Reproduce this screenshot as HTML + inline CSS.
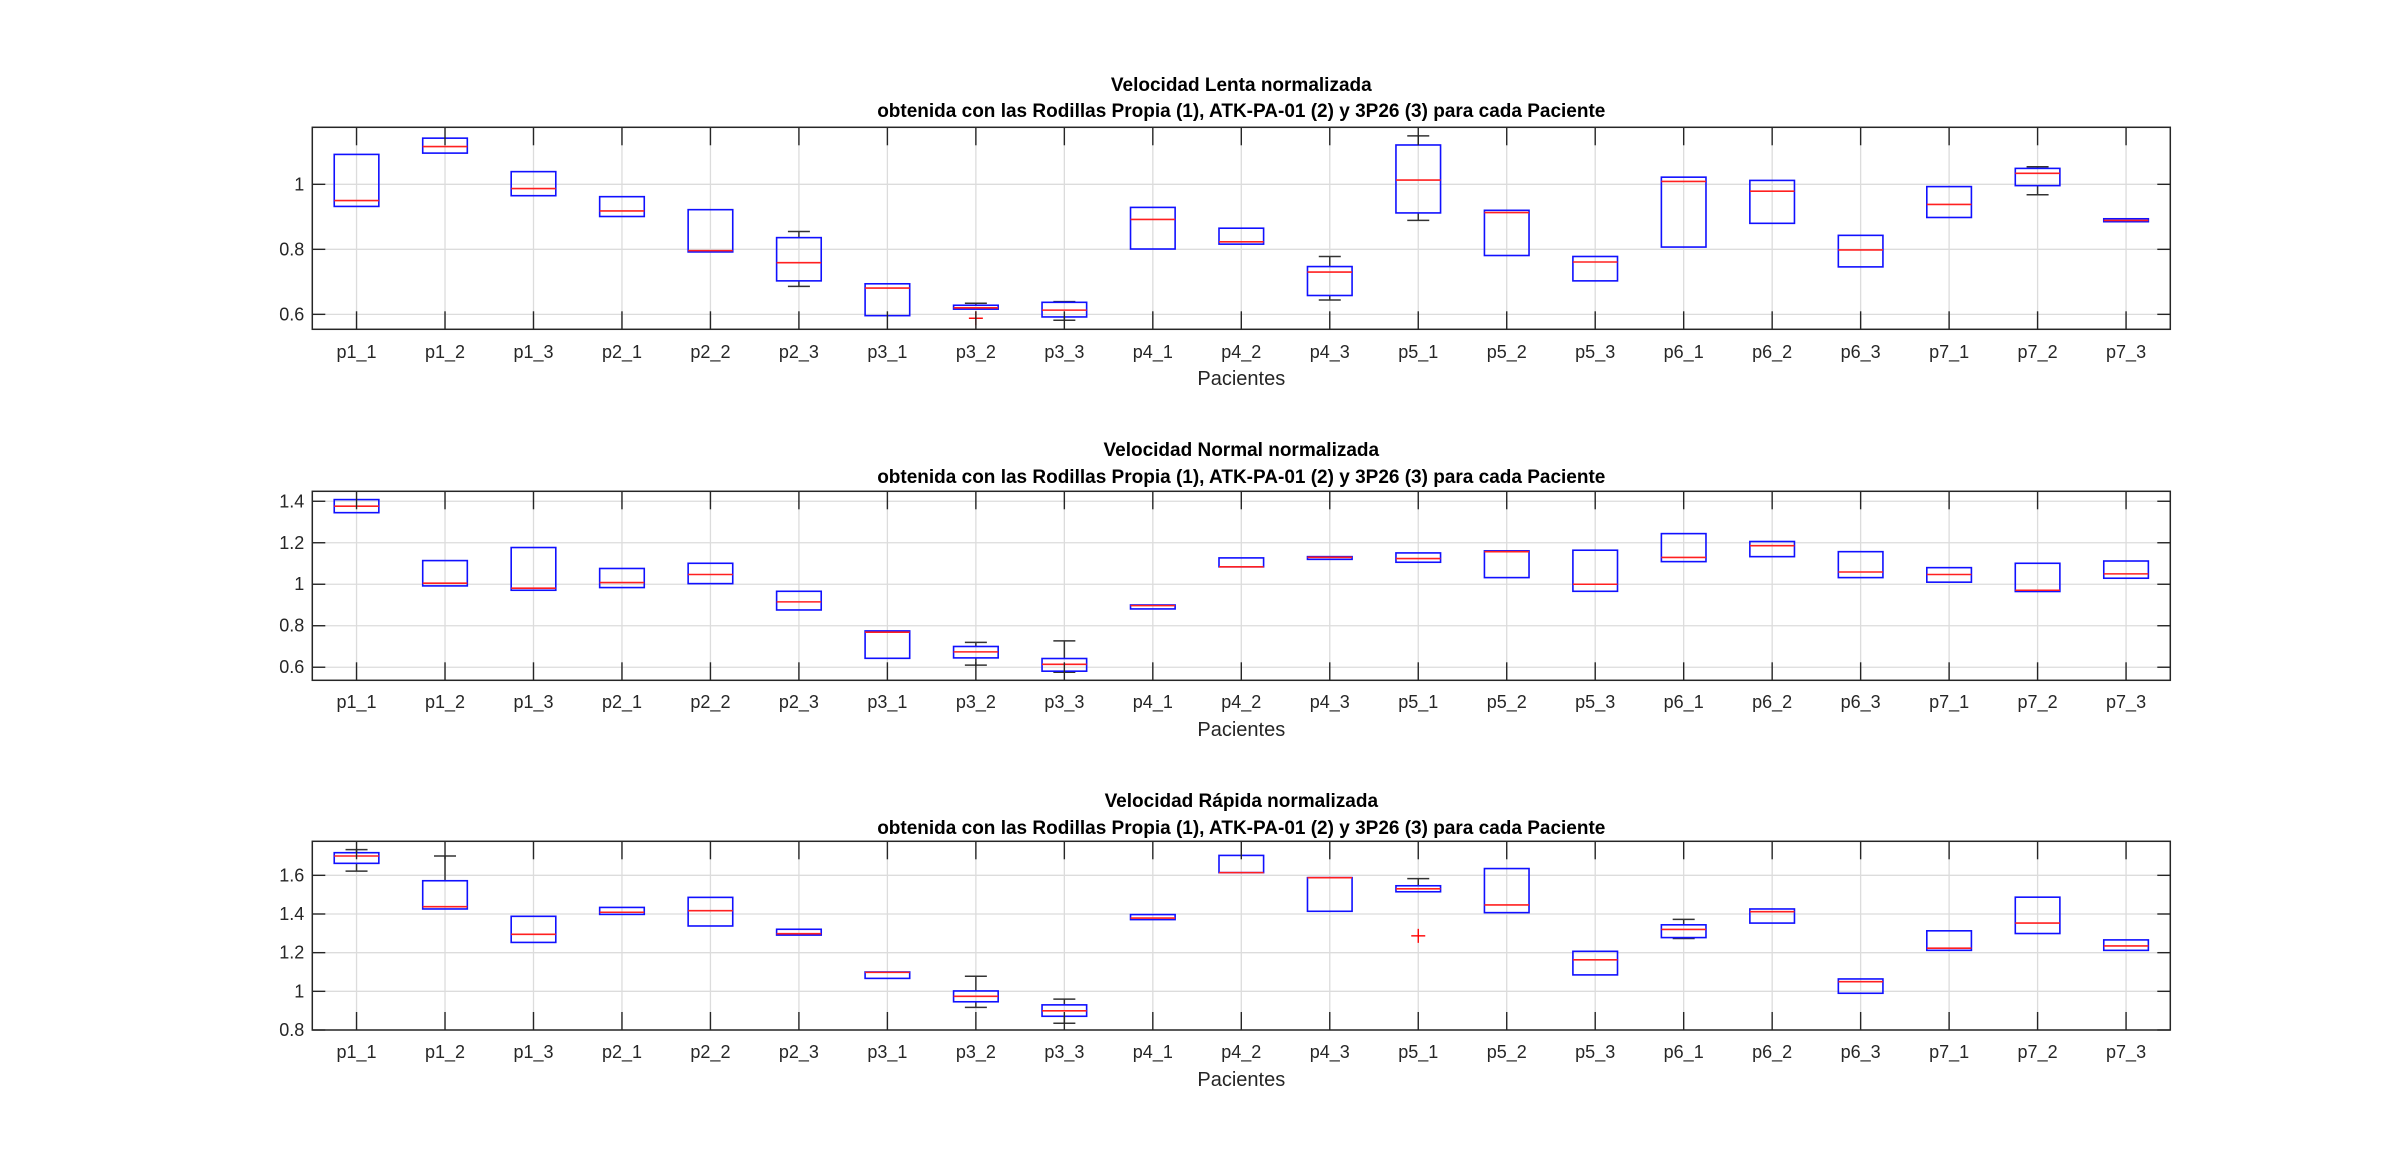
<!DOCTYPE html>
<html><head><meta charset="utf-8"><style>
html,body{margin:0;padding:0;background:#fff;}
svg{display:block;font-family:"Liberation Sans",Arial,sans-serif;}
</style></head><body>
<svg id="chart" width="2400" height="1170" viewBox="0 0 2400 1170" xmlns="http://www.w3.org/2000/svg"></svg>
<script>
const categories = ["p1_1","p1_2","p1_3","p2_1","p2_2","p2_3","p3_1","p3_2","p3_3","p4_1","p4_2","p4_3","p5_1","p5_2","p5_3","p6_1","p6_2","p6_3","p7_1","p7_2","p7_3"];
// Panel 1: Lenta
const lentaQ1  = [0.932,1.096,0.965,0.901,0.792,0.703,0.596,0.616,0.592,0.801,0.816,0.658,0.912,0.781,0.703,0.807,0.880,0.746,0.898,0.996,0.885];
const lentaMed = [0.950,1.116,0.987,0.918,0.796,0.759,0.681,0.620,0.613,0.892,0.823,0.730,1.013,0.913,0.761,1.009,0.979,0.798,0.938,1.034,0.889];
const lentaQ3  = [1.092,1.142,1.039,0.962,0.922,0.836,0.694,0.628,0.637,0.929,0.865,0.747,1.121,0.920,0.778,1.022,1.012,0.843,0.993,1.049,0.894];
const lentaWMin= [null,null,null,null,null,0.686,null,null,0.582,null,null,0.644,0.889,null,null,null,null,null,null,0.968,null];
const lentaWMax= [null,null,null,null,null,0.855,null,0.634,0.639,null,null,0.778,1.149,null,null,null,null,null,null,1.054,null];
const lentaOut = [[],[],[],[],[],[],[],[0.588],[],[],[],[],[],[],[],[],[],[],[],[],[]];
// Panel 2: Normal
const normalQ1  = [1.345,0.992,0.971,0.984,1.003,0.876,0.643,0.645,0.581,0.881,1.084,1.120,1.106,1.032,0.966,1.109,1.133,1.032,1.010,0.965,1.029];
const normalMed = [1.376,1.005,0.981,1.008,1.047,0.915,0.769,0.674,0.614,0.897,1.084,1.130,1.124,1.157,1.000,1.129,1.186,1.059,1.047,0.971,1.050];
const normalQ3  = [1.408,1.114,1.177,1.076,1.101,0.966,0.775,0.700,0.642,0.900,1.127,1.133,1.151,1.161,1.164,1.244,1.206,1.157,1.080,1.101,1.112];
const normalWMin= [null,null,null,null,null,null,null,0.610,0.576,null,null,null,null,null,null,null,null,null,null,null,null];
const normalWMax= [null,null,null,null,null,null,null,0.720,0.727,null,null,null,null,null,null,null,null,null,null,null,null];
const normalOut = [[],[],[],[],[],[],[],[],[],[],[],[],[],[],[],[],[],[],[],[],[]];
// Panel 3: Rapida
const rapidaQ1  = [1.662,1.426,1.253,1.398,1.338,1.291,1.067,0.946,0.871,1.371,1.614,1.414,1.515,1.407,1.085,1.278,1.353,0.990,1.212,1.299,1.212];
const rapidaMed = [1.700,1.438,1.295,1.409,1.417,1.298,1.098,0.974,0.899,1.379,1.614,1.588,1.530,1.447,1.163,1.320,1.412,1.050,1.223,1.353,1.235];
const rapidaQ3  = [1.717,1.572,1.388,1.434,1.486,1.321,1.100,1.002,0.930,1.397,1.703,1.588,1.546,1.635,1.207,1.344,1.426,1.064,1.313,1.487,1.266];
const rapidaWMin= [1.622,null,null,null,null,null,null,0.917,0.835,null,null,null,null,null,null,1.273,null,null,null,null,null];
const rapidaWMax= [1.733,1.700,null,null,null,null,null,1.078,0.960,null,null,null,1.583,null,null,1.372,null,null,null,null,null];
const rapidaOut = [[],[],[],[],[],[],[],[],[],[],[],[],[1.287],[],[],[],[],[],[],[],[]];

const ticks1 = [0.6,0.8,1];
const ticks2 = [0.6,0.8,1,1.2,1.4];
const ticks3 = [0.8,1,1.2,1.4,1.6];

const panels = [
 {name:"lenta", title1:"Velocidad Lenta normalizada", top:127.3, bottom:329.3, ymin:0.554, ymax:1.1754, ticks:ticks1, q1:lentaQ1, med:lentaMed, q3:lentaQ3, wmin:lentaWMin, wmax:lentaWMax, out:lentaOut, t1y:84, t2y:110, tly:352, xly:378},
 {name:"normal", title1:"Velocidad Normal normalizada", top:491.3, bottom:680.3, ymin:0.537, ymax:1.448, ticks:ticks2, q1:normalQ1, med:normalMed, q3:normalQ3, wmin:normalWMin, wmax:normalWMax, out:normalOut, t1y:449, t2y:476, tly:702, xly:729},
 {name:"rapida", title1:"Velocidad Rápida normalizada", top:841.3, bottom:1030, ymin:0.8, ymax:1.776, ticks:ticks3, q1:rapidaQ1, med:rapidaMed, q3:rapidaQ3, wmin:rapidaWMin, wmax:rapidaWMax, out:rapidaOut, t1y:800, t2y:827, tly:1052, xly:1079}
];
const L=312.3, R=2170.3;
const svg=document.getElementById('chart');
const NS="http://www.w3.org/2000/svg";
function mk(tag,attrs,parent){const e=document.createElementNS(NS,tag);for(const k in attrs)e.setAttribute(k,attrs[k]);parent.appendChild(e);return e;}
const n=categories.length;
function xs(i){return L+(i+0.5)*(R-L)/n;}
panels.forEach(p=>{
  const g=mk('g',{},svg);
  
  
  const ys=v=>p.bottom-(v-p.ymin)/(p.ymax-p.ymin)*(p.bottom-p.top);
  // grid
  categories.forEach((c,i)=>{
    const l=mk('line',{x1:xs(i),x2:xs(i),y1:p.top,y2:p.bottom,stroke:'#dcdcdc','stroke-width':1.3},g);
    
    
  });
  p.ticks.forEach(t=>{
    const l=mk('line',{x1:L,x2:R,y1:ys(t),y2:ys(t),stroke:'#dcdcdc','stroke-width':1.3},g);
    
    
  });
  // boxes
  categories.forEach((c,i)=>{
    const x=xs(i), hw=22.3, cw=11;
    const bg=mk('g',{},g);
    
    
    const wmax=p.wmax[i]==null?p.q3[i]:p.wmax[i];
    const wmin=p.wmin[i]==null?p.q1[i]:p.wmin[i];
    if(wmax>p.q3[i]){mk('line',{x1:x,x2:x,y1:ys(wmax),y2:ys(p.q3[i]),stroke:'#333','stroke-width':1.5},bg);
      mk('line',{x1:x-cw,x2:x+cw,y1:ys(wmax),y2:ys(wmax),stroke:'#333','stroke-width':1.5},bg);}
    if(wmin<p.q1[i]){mk('line',{x1:x,x2:x,y1:ys(wmin),y2:ys(p.q1[i]),stroke:'#333','stroke-width':1.5},bg);
      mk('line',{x1:x-cw,x2:x+cw,y1:ys(wmin),y2:ys(wmin),stroke:'#333','stroke-width':1.5},bg);}
    mk('rect',{x:x-hw,y:ys(p.q3[i]),width:2*hw,height:Math.max(1,ys(p.q1[i])-ys(p.q3[i])),fill:'none',stroke:'#1010ff','stroke-width':1.6},bg);
    mk('line',{x1:x-hw,x2:x+hw,y1:ys(p.med[i]),y2:ys(p.med[i]),stroke:'#ff2020','stroke-width':1.6},bg);
    p.out[i].forEach(o=>{
      const oy=ys(o);
      const og=mk('g',{},bg);
      
      
      mk('line',{x1:x-7,x2:x+7,y1:oy,y2:oy,stroke:'#f00','stroke-width':1.4},og);
      mk('line',{x1:x,x2:x,y1:oy-7,y2:oy+7,stroke:'#f00','stroke-width':1.4},og);
    });
    // tick marks
    mk('line',{x1:x,x2:x,y1:p.top,y2:p.top+18,stroke:'#262626','stroke-width':1.4},g);
    mk('line',{x1:x,x2:x,y1:p.bottom,y2:p.bottom-18,stroke:'#262626','stroke-width':1.4},g);
    const tl=mk('text',{x:x,y:p.tly+6,'text-anchor':'middle','font-size':18,fill:'#262626'},g);
    tl.textContent=c;
    
    
  });
  p.ticks.forEach(t=>{
    mk('line',{x1:L,x2:L+13,y1:ys(t),y2:ys(t),stroke:'#262626','stroke-width':1.4},g);
    mk('line',{x1:R,x2:R-13,y1:ys(t),y2:ys(t),stroke:'#262626','stroke-width':1.4},g);
    const tl=mk('text',{x:L-8,y:ys(t)+6,'text-anchor':'end','font-size':18,fill:'#262626'},g);
    tl.textContent=String(t);
    
    
  });
  const fr=mk('rect',{x:L,y:p.top,width:R-L,height:p.bottom-p.top,fill:'none',stroke:'#262626','stroke-width':1.5},g);
  
  
  const cx=(L+R)/2;
  const t1=mk('text',{x:cx,y:p.t1y+7,'text-anchor':'middle','font-size':19,'font-weight':'bold',fill:'#000'},g);
  t1.textContent=p.title1;
  
  
  const t2=mk('text',{x:cx,y:p.t2y+7,'text-anchor':'middle','font-size':19,'font-weight':'bold',fill:'#000'},g);
  t2.textContent="obtenida con las Rodillas Propia (1), ATK-PA-01 (2) y 3P26 (3) para cada Paciente";
  
  
  const xl=mk('text',{x:cx,y:p.xly+7,'text-anchor':'middle','font-size':20,fill:'#262626'},g);
  xl.textContent="Pacientes";
  
  
});
</script>
</body></html>
